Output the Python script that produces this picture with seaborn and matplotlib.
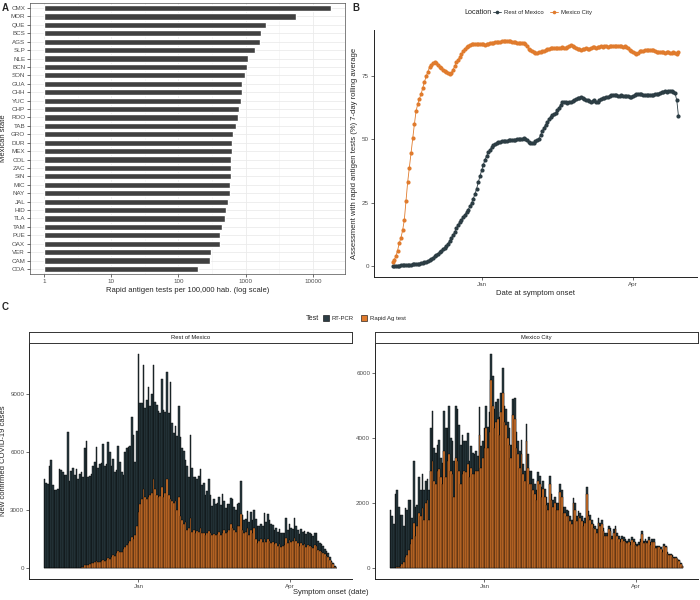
import numpy as np
import pandas as pd
import matplotlib
matplotlib.use("Agg")
import matplotlib.pyplot as plt
import matplotlib.dates as mdates
from matplotlib.patches import Patch
from matplotlib.lines import Line2D
import seaborn as sns

# A: rapid antigen tests per 100,000 inhabitants, by state
states = ["CMX", "MOR", "QUE", "BCS", "AGS", "SLP", "NLE", "BCN", "SON", "GUA", "CHH",
          "YUC", "CHP", "ROO", "TAB", "GRO", "DUR", "MEX", "COL", "ZAC", "SIN", "MIC",
          "NAY", "JAL", "HID", "TLA", "TAM", "PUE", "OAX", "VER", "CAM", "COA"]
tests_per_100k = [18700, 5540, 1990, 1680, 1640, 1400, 1090, 1040, 985, 890, 870,
                  840, 790, 775, 730, 640, 625, 617, 612, 605, 598, 592,
                  586, 544, 514, 486, 449, 419, 410, 301, 291, 196]

# B: % assessed with rapid antigen test, 7-day rolling average (daily from 2020-11-09)
pct_start = "2020-11-09"
pct_rest = [0.1, 0.1, 0.1, 0.1, 0.1, 0.2, 0.2, 0.2, 0.3, 0.3,
            0.4, 0.4, 0.5, 0.5, 0.6, 0.7, 0.8, 1.0, 1.2, 1.4,
            1.6, 1.9, 2.3, 2.7, 3.2, 3.7, 4.3, 4.8, 5.4, 6.0,
            6.6, 7.2, 7.9, 8.8, 9.9, 11.0, 12.1, 13.5, 14.9, 16.2,
            17.3, 18.3, 19.3, 20.2, 21.2, 22.2, 23.5, 24.8, 26.5, 28.3,
            30.5, 33.0, 35.5, 37.8, 40.0, 42.0, 43.6, 44.9, 46.0, 46.9,
            47.6, 48.2, 48.6, 48.8, 49.1, 49.3, 49.3, 49.5, 49.5, 49.6,
            49.7, 49.6, 49.8, 49.9, 50.0, 50.2, 50.3, 50.3, 50.4, 50.2,
            49.8, 49.1, 48.6, 48.4, 48.5, 49.2, 49.8, 50.3, 51.8, 53.2,
            54.6, 55.8, 56.9, 57.9, 59.0, 59.6, 60.0, 60.6, 61.5, 62.6,
            63.8, 64.8, 65.0, 64.8, 64.6, 64.7, 64.9, 65.2, 65.5, 65.9,
            66.2, 66.5, 66.7, 66.5, 66.1, 65.7, 65.4, 65.1, 64.8, 65.1,
            65.4, 65.0, 64.9, 65.6, 66.1, 66.3, 66.5, 66.6, 66.8, 67.2,
            67.5, 67.6, 67.5, 67.4, 67.2, 67.3, 67.5, 67.3, 67.1, 67.1,
            67.0, 66.8, 66.7, 67.0, 67.5, 67.8, 68.0, 67.9, 67.8, 67.6,
            67.5, 67.4, 67.5, 67.5, 67.4, 67.6, 67.8, 67.9, 68.0, 68.3,
            68.6, 68.9, 69.0, 68.9, 69.0, 69.1, 69.1, 68.8, 68.2, 65.4,
            59.1]
pct_cdmx = [1.4, 2.4, 3.7, 6.0, 8.9, 11.0, 14.0, 18.0, 25.5, 33.0,
            38.8, 44.5, 50.5, 56.0, 61.2, 64.0, 66.1, 68.0, 70.4, 72.8,
            74.9, 76.8, 78.5, 79.5, 80.3, 80.5, 80.1, 79.6, 78.8, 78.2,
            77.6, 77.2, 76.7, 76.2, 75.9, 76.4, 77.6, 79.1, 80.5, 81.6,
            82.5, 83.8, 84.9, 85.8, 86.4, 87.0, 87.3, 87.6, 87.7, 87.8,
            87.9, 87.7, 87.6, 87.8, 87.7, 87.5, 87.6, 87.9, 88.1, 88.2,
            88.3, 88.4, 88.5, 88.6, 88.7, 88.8, 88.8, 88.9, 88.9, 88.9,
            88.8, 88.7, 88.5, 88.4, 88.3, 88.2, 88.3, 88.2, 88.0, 87.6,
            86.8, 85.9, 85.2, 84.8, 84.5, 84.3, 84.3, 84.4, 84.6, 84.9,
            85.1, 85.3, 85.6, 85.9, 86.1, 86.2, 86.2, 86.0, 86.0, 86.1,
            86.3, 86.4, 86.3, 86.2, 86.5, 86.9, 87.2, 87.0, 86.6, 86.3,
            85.9, 85.6, 85.5, 85.6, 85.9, 86.0, 85.8, 85.9, 86.3, 86.5,
            86.5, 86.3, 86.5, 86.7, 86.9, 86.7, 86.8, 86.9, 86.7, 86.9,
            87.0, 86.8, 86.9, 86.9, 86.8, 86.9, 86.8, 86.7, 86.8, 86.7,
            86.0, 85.3, 84.9, 84.5, 84.1, 83.8, 84.3, 84.8, 85.0, 84.9,
            85.2, 85.4, 85.3, 85.4, 85.2, 85.2, 85.0, 84.6, 84.4, 84.6,
            84.7, 84.4, 84.2, 84.4, 84.5, 84.3, 84.2, 84.4, 84.0, 83.8,
            84.7]

# C: new confirmed cases per day (daily from 2020-11-06); total = RT-PCR + rapid Ag
cases_start = "2020-11-06"
rest_total = [4600, 4400, 4350, 5300, 5600, 4300, 4050, 4050, 4100, 5150,
              5100, 5000, 4800, 4850, 7050, 4500, 5050, 5200, 4800, 5150,
              4600, 4900, 5000, 4700, 6200, 6600, 4700, 4750, 4900, 5300,
              5500, 6300, 5200, 5400, 5450, 6450, 5300, 5400, 6550, 6000,
              5300, 5650, 5000, 5100, 6350, 5500, 5000, 4850, 6000, 6200,
              6300, 6350, 7850, 6900, 5500, 7100, 11100, 8550, 8550, 10500,
              8300, 8700, 9400, 8400, 9000, 10500, 8600, 8450, 8150, 8050,
              9800, 8200, 8100, 10150, 8050, 9650, 7500, 7000, 7350, 6850,
              8400, 6800, 6200, 6050, 5600, 5300, 4700, 6900, 5200, 4700,
              4700, 4600, 4750, 5150, 4300, 4400, 3800, 4000, 4600, 3800,
              3200, 3600, 3300, 3400, 3700, 3250, 3850, 3500, 3100, 3300,
              3350, 3650, 3600, 3150, 3000, 3300, 3400, 4500, 2750, 2500,
              2550, 2950, 2400, 2900, 2500, 3000, 2550, 2200, 2200, 2300,
              2200, 2850, 2400, 2800, 2500, 2300, 2250, 2000, 2100, 1900,
              2050, 1850, 1800, 1850, 2600, 2000, 2300, 2100, 2050, 2600,
              2200, 2000, 1750, 2050, 1900, 1950, 1750, 1900, 1800, 1750,
              1650, 1850, 1800, 1400, 1300, 1250, 1150, 1000, 900, 800,
              600, 400, 250, 100, 30]
rest_ag = [0, 0, 0, 0, 0, 0, 0, 0, 0, 0,
           0, 0, 0, 0, 0, 0, 0, 0, 0, 0,
           0, 20, 60, 80, 150, 180, 150, 200, 250, 280,
           300, 380, 320, 350, 400, 450, 400, 450, 550, 500,
           600, 700, 650, 800, 900, 850, 850, 1000, 1100, 1200,
           1300, 1400, 1600, 1500, 1700, 2200, 2900, 3300, 3600, 4100,
           3700, 3600, 3700, 3800, 3900, 4600, 4100, 3800, 3700, 3750,
           4200, 3700, 3900, 4600, 3800, 3600, 3500, 3400, 3500, 3000,
           3700, 2700, 2500, 2300, 2400, 2000, 2100, 2600, 1900, 2000,
           1800, 1950, 1900, 2100, 1800, 1800, 1700, 1800, 1950, 1800,
           1700, 1750, 1700, 1750, 1900, 1700, 1800, 2000, 1800, 1900,
           2000, 2300, 2100, 2000, 1900, 2200, 2200, 2800, 2000, 1800,
           1900, 2100, 1700, 2000, 1800, 2100, 1500, 1300, 1400, 1500,
           1350, 1500, 1350, 1500, 1400, 1300, 1350, 1250, 1300, 1150,
           1250, 1100, 1150, 1200, 1550, 1300, 1450, 1350, 1400, 1550,
           1400, 1300, 1150, 1300, 1200, 1250, 1100, 1200, 1150, 1100,
           1050, 1200, 1150, 950, 900, 850, 800, 750, 650, 600,
           450, 300, 200, 80, 20]
cdmx_total = [1800, 1600, 1350, 2300, 2400, 1900, 1650, 1650, 1300, 1850,
              1800, 2100, 2100, 1550, 3300, 1900, 1950, 2800, 2400, 2900,
              2400, 2700, 2750, 2400, 4300, 4850, 3700, 3550, 3800, 3950,
              3400, 3250, 4850, 4300, 4300, 5000, 4000, 3900, 3300, 5000,
              4900, 4400, 3800, 4100, 3900, 3900, 4150, 3300, 3750, 3550,
              3500, 3600, 3450, 4950, 3750, 3900, 4300, 5000, 4350, 4800,
              6600, 5900, 4900, 5100, 5200, 4650, 5400, 6150, 5000, 4900,
              4500, 4300, 3800, 5200, 5250, 4200, 3900, 3600, 3950, 3200,
              3000, 4450, 3500, 3000, 3000, 2750, 2600, 2400, 2950, 2850,
              2500, 2700, 2450, 2200, 2000, 2850, 2300, 2100, 2200, 2000,
              2000, 2600, 2400, 1900, 1900, 1800, 1750, 1600, 1500, 2150,
              2000, 1600, 1750, 1700, 1600, 1450, 1550, 2500, 1750, 1650,
              1500, 1350, 1300, 1200, 1550, 1400, 1500, 1250, 1100, 1100,
              1300, 1250, 1000, 1200, 1300, 1100, 1000, 900, 1000, 950,
              900, 850, 900, 800, 950, 900, 800, 750, 800, 900,
              1150, 850, 900, 850, 950, 800, 900, 900, 700, 700,
              700, 650, 550, 750, 700, 500, 450, 450, 400, 350,
              350, 300, 250, 150, 80]
cdmx_ag = [0, 0, 0, 0, 30, 50, 80, 120, 200, 350,
           400, 550, 750, 900, 1400, 1000, 1300, 1700, 1600, 1850,
           1500, 2000, 2100, 1500, 3000, 3300, 2700, 2600, 3000, 3050,
           2800, 2600, 3600, 2800, 3300, 3500, 3000, 2900, 2200, 3400,
           3300, 3000, 2600, 2900, 3000, 2950, 3200, 2800, 3100, 2900,
           2900, 3000, 3000, 4100, 3100, 3400, 3700, 4300, 3700, 4200,
           5800, 5000, 4300, 4500, 4600, 4100, 4800, 5400, 4500, 4400,
           4000, 3800, 3400, 4700, 4600, 3700, 3500, 3100, 3500, 2900,
           2700, 3900, 3100, 2600, 2600, 2400, 2300, 2100, 2700, 2600,
           2200, 2450, 2200, 1950, 1800, 2600, 2100, 1900, 2000, 1800,
           1800, 2350, 2200, 1700, 1700, 1600, 1600, 1450, 1350, 2000,
           1800, 1450, 1600, 1550, 1450, 1300, 1400, 2300, 1600, 1500,
           1350, 1250, 1200, 1100, 1400, 1300, 1350, 1150, 1000, 1000,
           1200, 1150, 900, 1100, 1200, 1000, 900, 800, 900, 850,
           800, 780, 820, 720, 860, 820, 720, 680, 720, 820,
           1050, 780, 820, 780, 870, 720, 820, 820, 630, 640,
           640, 590, 500, 690, 640, 450, 410, 410, 360, 320,
           320, 270, 230, 140, 70]

DARK = "#2C3D44"
ORANGE = "#E07B2D"

sns.set_theme(style="white")
plt.rcParams["font.family"] = ["Liberation Sans", "DejaVu Sans"]

W, H = 700, 600
fig = plt.figure(figsize=(7, 6), dpi=100)


def box(l, t, r, b):
    return [l / W, 1 - b / H, (r - l) / W, (b - t) / H]


def ticks(ax):
    ax.tick_params(axis="both", which="major", length=2, width=0.5, color="#333333",
                   labelsize=4.5, labelcolor="#4d4d4d", pad=1.5,
                   bottom=True, left=True)


def date_axis(ax):
    ax.xaxis.set_major_locator(mdates.MonthLocator(bymonth=[1, 4]))
    ax.xaxis.set_major_formatter(mdates.DateFormatter("%b"))


# ---- panel A
axA = fig.add_axes(box(30, 3, 345, 274))
sns.barplot(x=np.log10(tests_per_100k), y=states, orient="h", color="#404040",
            saturation=1, width=0.74, ax=axA, zorder=3)
axA.set_xlim(-0.21, 4.48)
axA.set_ylim(len(states) - 0.4, -0.6)
axA.set_xticks(range(5))
axA.set_xticklabels(["1", "10", "100", "1000", "10000"])
axA.set_xticks(np.arange(0.5, 4.5, 1), minor=True)
axA.grid(True, which="major", color="#EBEBEB", lw=0.6, zorder=0)
axA.grid(True, which="minor", axis="x", color="#F2F2F2", lw=0.4, zorder=0)
for s in axA.spines.values():
    s.set_color("#4d4d4d")
    s.set_linewidth(0.5)
ticks(axA)
axA.set_xlabel("Rapid antigen tests per 100,000 hab. (log scale)", fontsize=5.5, labelpad=2)
axA.set_ylabel("Mexican state", fontsize=5.5)
axA.yaxis.set_label_coords((7 - 30) / 315, 0.5)

# ---- panel B
pct = pd.DataFrame({
    "date": list(pd.date_range(pct_start, periods=len(pct_rest))) * 2,
    "pct": pct_rest + pct_cdmx,
    "Location": ["Rest of Mexico"] * len(pct_rest) + ["Mexico City"] * len(pct_cdmx),
})
axB = fig.add_axes(box(374, 30, 697, 277))
sns.lineplot(data=pct, x="date", y="pct", hue="Location",
             hue_order=["Rest of Mexico", "Mexico City"], palette=[DARK, ORANGE],
             marker="o", markersize=3.0, markeredgewidth=0, linewidth=0.6,
             legend=False, ax=axB)
axB.set_xlim(pd.Timestamp("2020-10-29"), pd.Timestamp("2021-05-09"))
axB.set_ylim(-4.45, 93.3)
axB.set_yticks([0, 25, 50, 75])
date_axis(axB)
sns.despine(ax=axB)
for s in ["left", "bottom"]:
    axB.spines[s].set_color("#222222")
    axB.spines[s].set_linewidth(0.7)
ticks(axB)
axB.set_xlabel("Date at symptom onset", fontsize=5.5, labelpad=2)
axB.set_ylabel("Assessment with rapid antigen tests (%) 7-day rolling average",
               fontsize=5.5)
axB.yaxis.set_label_coords((358 - 374) / 323, 0.5)

fig.text(464 / W, 1 - 12 / H, "Location", fontsize=5.2, va="center", ha="left")
fig.legend([Line2D([], [], color=c, lw=0.6, marker="o", markersize=2.6, markeredgewidth=0)
            for c in (DARK, ORANGE)],
           ["Rest of Mexico", "Mexico City"], ncol=2, frameon=False, fontsize=4.3,
           loc="center left", bbox_to_anchor=(490 / W, 1 - 12 / H),
           handlelength=1.4, handletextpad=0.5, columnspacing=1.0, borderpad=0)

# ---- panel C
days = mdates.date2num(pd.date_range(cases_start, periods=len(rest_total)))
facets = [("Rest of Mexico", rest_total, rest_ag, 29, 352, [0, 3000, 6000, 9000]),
          ("Mexico City", cdmx_total, cdmx_ag, 375, 698, [0, 2000, 4000, 6000])]
for name, total, ag, left, right, yt in facets:
    ax = fig.add_axes(box(left, 343, right, 579))
    sns.barplot(x=days, y=total, native_scale=True, color=DARK, saturation=1,
                width=1, edgecolor="black", linewidth=0.3, errorbar=None, ax=ax)
    sns.barplot(x=days, y=ag, native_scale=True, color=ORANGE, saturation=1,
                width=1, edgecolor="black", linewidth=0.3, errorbar=None, ax=ax)
    top = max(total)
    ax.set_ylim(-0.05 * top, 1.05 * top)
    ax.set_xlim(days[0] - 9.2, days[-1] + 9.2)
    ax.set_yticks(yt)
    date_axis(ax)
    sns.despine(ax=ax)
    for s in ["left", "bottom"]:
        ax.spines[s].set_color("#222222")
        ax.spines[s].set_linewidth(0.7)
    ticks(ax)
    ax.set_xlabel("")
    ax.set_ylabel("")
    strip = fig.add_axes(box(left, 332, right, 343))
    strip.set_xticks([])
    strip.set_yticks([])
    for s in strip.spines.values():
        s.set_color("#333333")
        s.set_linewidth(0.7)
    strip.text(0.5, 0.5, name, fontsize=4.2, ha="center", va="center",
               color="#1a1a1a", transform=strip.transAxes)
    if left < 100:
        ax.set_ylabel("New confirmed COVID-19 cases", fontsize=5.5)
        ax.yaxis.set_label_coords((7 - left) / (right - left), 0.5)

fig.text(331 / W, 1 - 592 / H, "Symptom onset (date)", fontsize=5.5, ha="center", va="center")
fig.text(306 / W, 1 - 318 / H, "Test", fontsize=5.2, va="center", ha="left")
fig.legend([Patch(facecolor=c, edgecolor="black", lw=0.4) for c in (DARK, ORANGE)],
           ["RT-PCR", "Rapid Ag test"], ncol=2, frameon=False, fontsize=4.3,
           loc="center left", bbox_to_anchor=(320 / W, 1 - 318 / H),
           handlelength=1.0, handleheight=1.3, handletextpad=0.5, columnspacing=1.2,
           borderpad=0)

for lbl, x, y in [("A", 2, 8), ("B", 352, 8), ("C", 2, 307)]:
    fig.text(x / W, 1 - y / H, lbl, fontsize=7, fontweight="bold", va="center")

fig.savefig("out.png", dpi=100)
